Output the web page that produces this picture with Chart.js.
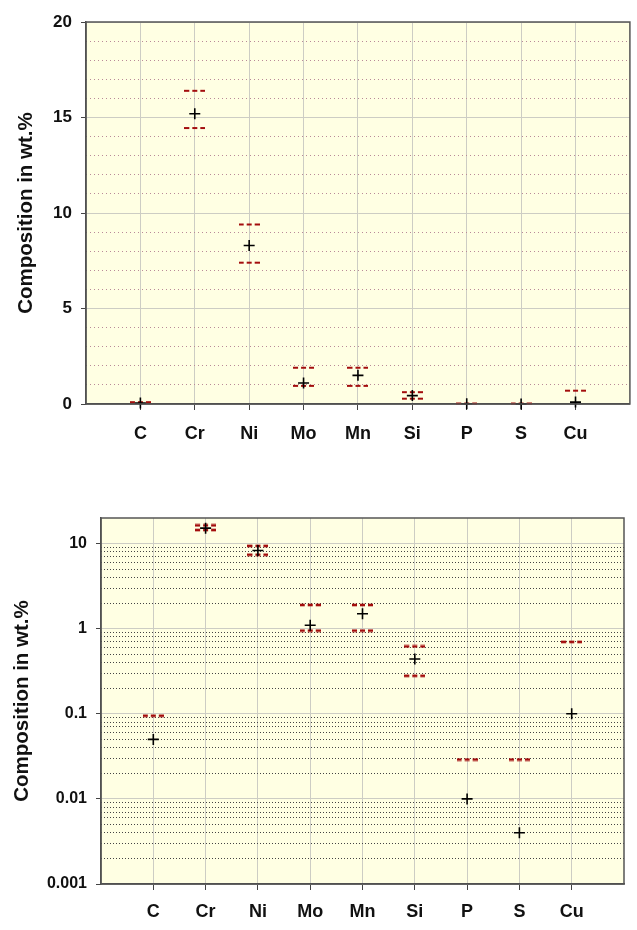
<!DOCTYPE html>
<html>
<head>
<meta charset="utf-8">
<script src="https://cdn.jsdelivr.net/npm/chart.js@4/dist/chart.umd.min.js"></script>
<style>
	body { margin: 0; background: #fff; }
	.box { position: absolute; left: 0; width: 637px; height: 450px; }
</style>
</head>
<body>
<div class="box" style="top:0"><canvas id="linChart" width="637" height="450"></canvas></div>
<div class="box" style="top:480px"><canvas id="logChart" width="637" height="450"></canvas></div>
<script>
var elements = ['C', 'Cr', 'Ni', 'Mo', 'Mn', 'Si', 'P', 'S', 'Cu'];
var measured = [0.05, 15.2, 8.3, 1.1, 1.5, 0.44, 0.01, 0.004, 0.1];
var specMax = [0.095, 16.4, 9.4, 1.9, 1.9, 0.62, 0.029, 0.029, 0.7];
var specMin = [null, 14.45, 7.4, 0.95, 0.95, 0.28, null, null, null];
var linTicks = [0, 5, 10, 15, 20];
var logTicks = [0.001, 0.01, 0.1, 1, 10];
var logMinorSteps = [2, 3, 4, 5, 6, 7, 8, 9];

Chart.defaults.font.family = "'Liberation Sans', Arial, sans-serif";
Chart.defaults.color = '#111';

// little red "---" mark used for the spec limits
function makeDashMark(thick) {
	var c = document.createElement('canvas');
	c.width = 21; c.height = 4;
	var g = c.getContext('2d');
	g.fillStyle = '#a30d0d';
	[0, 8, 16].forEach(function(x) { g.fillRect(x, (4 - thick) / 2, 5, thick); });
	return c;
}

function toPoints(values) {
	var pts = [];
	values.forEach(function(v, i) { if (v !== null) pts.push({x: i + 1, y: v}); });
	return pts;
}

const plotBackground = {
	id: 'plotBackground',
	beforeDraw(chart) {
		const {ctx, chartArea: {left, top, width, height}} = chart;
		ctx.save();
		ctx.fillStyle = '#ffffe3';
		ctx.fillRect(left, top, width, height);
		ctx.restore();
	}
};

const chartAreaBorder = {
	id: 'chartAreaBorder',
	afterDraw(chart) {
		const {ctx, chartArea: {left, top, width, height}} = chart;
		ctx.save();
		ctx.strokeStyle = '#555';
		ctx.lineWidth = 1.5;
		ctx.strokeRect(left, top, width, height);
		ctx.restore();
	}
};

function createChart(ctx, log) {
	var dash = makeDashMark(log ? 2.6 : 2);
	var yMain, yMinor;
	if (log) {
		yMain = {
			type: 'logarithmic', min: 0.001, max: 20,
			afterBuildTicks: function(scale) { scale.ticks = logTicks.map(v => ({value: v})); },
			ticks: {font: {size: 16, weight: 'bold'}, padding: 9, callback: v => String(v)},
			grid: {color: '#cdcdc4', tickColor: '#444', tickLength: 5},
			border: {color: '#444', width: 1.5},
			title: {display: true, text: 'Composition in wt.%', font: {size: 20.5, weight: 'bold'}, padding: {top: 10, bottom: 0}},
			afterFit: function(scale) { scale.width = 101; }
		};
		yMinor = {
			type: 'logarithmic', min: 0.001, max: 20, position: 'left',
			afterBuildTicks: function(scale) {
				var t = [];
				logTicks.slice(0, 4).forEach(d => logMinorSteps.forEach(m => t.push({value: +(d * m).toPrecision(3)})));
				scale.ticks = t;
			},
			ticks: {display: false},
			grid: {color: '#444', drawTicks: false},
			border: {display: false, dash: [1, 2]},
			afterFit: function(scale) { scale.width = 0; }
		};
	} else {
		yMain = {
			type: 'linear', min: 0, max: 20,
			afterBuildTicks: function(scale) { scale.ticks = linTicks.map(v => ({value: v})); },
			ticks: {font: {size: 17, weight: 'bold'}, padding: 9},
			grid: {color: '#cdcdc4', tickColor: '#444', tickLength: 5},
			border: {color: '#444', width: 1.5},
			title: {display: true, text: 'Composition in wt.%', font: {size: 20.5, weight: 'bold'}, padding: {top: 14, bottom: 0}},
			afterFit: function(scale) { scale.width = 86; }
		};
		yMinor = {
			type: 'linear', min: 0, max: 20, position: 'left',
			ticks: {display: false, stepSize: 1},
			grid: {color: c => (c.tick.value % 5 === 0 ? 'rgba(0,0,0,0)' : '#b98a98'), drawTicks: false},
			border: {display: false, dash: [1, 3]},
			afterFit: function(scale) { scale.width = 0; }
		};
	}

	var chart = new Chart(ctx, {
	type: 'scatter',
	data: {
		datasets: [{
			label: 'Measured',
			data: toPoints(measured),
			pointStyle: 'cross',
			radius: 5.5,
			borderColor: '#000',
			borderWidth: 1.6,
			clip: false,
		}, {
			label: 'Max',
			data: toPoints(specMax),
			pointStyle: dash,
			clip: false,
		}, {
			label: 'Min',
			data: toPoints(specMin),
			pointStyle: dash,
			clip: false,
		}]
	},
	options: {
		responsive: false,
		animation: false,
		layout: {padding: {top: log ? 38 : 22, right: log ? 13 : 4, left: 0, bottom: 0}},
		scales: {
			x: {
				type: 'linear', min: 0, max: 10,
				ticks: {
					stepSize: 1, autoSkip: false, padding: log ? 11 : 13,
					font: {size: 18, weight: 'bold'},
					callback: v => elements[v - 1] || '',
				},
				grid: {
					color: c => (c.tick.value === 0 || c.tick.value === 10 ? 'rgba(0,0,0,0)' : '#cdcdc4'),
					tickColor: c => (c.tick.value === 0 || c.tick.value === 10 ? 'rgba(0,0,0,0)' : '#444'),
					tickLength: 6,
				},
				border: {color: '#444', width: 1.5},
				afterFit: function(scale) {
					scale.height = 46;
					scale.paddingLeft = 0;
					scale.paddingRight = 0;
				}
			},
			y: yMain,
			yMinor: yMinor,
		},
		plugins: {
			legend: {display: false},
			tooltip: {enabled: false},
		},
	},
	plugins: [plotBackground, chartAreaBorder],
	});

	return chart;
}

createChart(document.getElementById('linChart'), false);
createChart(document.getElementById('logChart'), true);
</script>
</body>
</html>
